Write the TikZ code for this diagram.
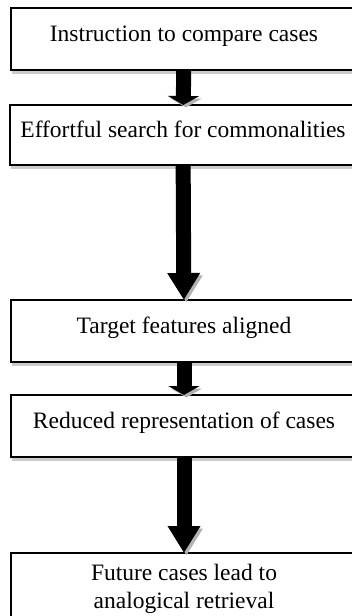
\documentclass[tikz,border=0pt]{standalone}
\usepackage{fontspec}
\setmainfont{Liberation Serif}
\usetikzlibrary{arrows.meta,shadows}

\begin{document}
\begin{tikzpicture}
[x=1pt,y=-1pt,
 every node/.style={font=\fontsize{23.5}{28}\selectfont},
 box/.style={draw=black,line width=1.8pt,fill=white,minimum width=346pt,inner sep=0pt,outer sep=0pt,
             drop shadow={shadow xshift=0.5pt,shadow yshift=-3.5pt,opacity=.4}},
 oneline/.style={box,minimum height=62pt,text height=15pt,text depth=11pt},
 flow/.style={line width=15pt,preaction={draw=black!30,transform canvas={xshift=2.5pt,yshift=-2.5pt}}},
 shortflow/.style={flow,-{Triangle[width=31pt,length=9pt]}},
 longflow/.style={flow,-{Triangle[width=31pt,length=27pt]}}]
\useasboundingbox (0,0) rectangle (352,616);
\clip (0,0) rectangle (352,616);
\node[oneline] (instr)  at (184,39)  {Instruction to compare cases};
\node[oneline,minimum height=60pt] (search) at (183,135) {Effortful search for commonalities};
\node[oneline] (align)  at (184,331) {Target features aligned};
\node[oneline] (reduce) at (184,426) {Reduced representation of cases};
\node[box,minimum height=72pt,align=center] (future) at (184,589) {Future cases lead to\\analogical retrieval};
\draw[shortflow] (instr)  -- (search);
\draw[longflow]  (search) -- (align);
\draw[shortflow] (align)  -- (reduce);
\draw[longflow]  (reduce) -- (future);
\end{tikzpicture}
\end{document}
